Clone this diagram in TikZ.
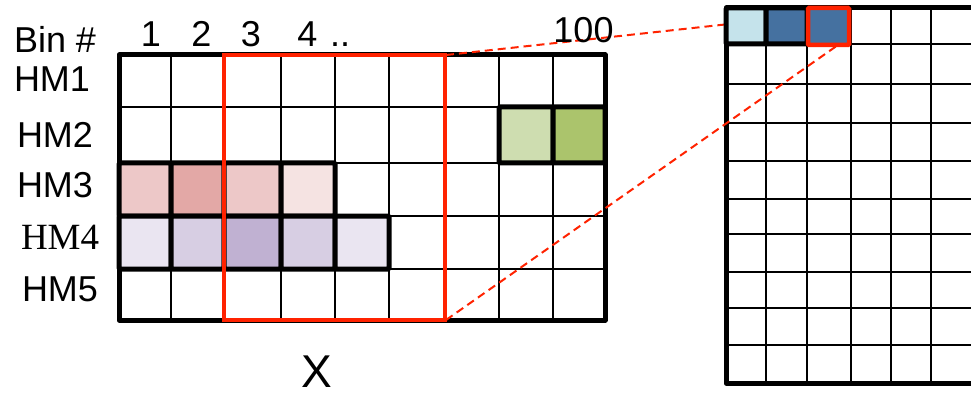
\documentclass[tikz,border=0pt]{standalone}
\usepackage{fontspec}
\setmainfont{Liberation Sans}
\newfontfamily\seriffont{Liberation Serif}
\definecolor{redbox}{RGB}{255,34,0}
\definecolor{pinkA}{HTML}{EDC8C8}
\definecolor{pinkB}{HTML}{E3A8A6}
\definecolor{pinkC}{HTML}{F5E3E2}
\definecolor{purA}{HTML}{EAE5F1}
\definecolor{purB}{HTML}{D7CEE3}
\definecolor{purC}{HTML}{C0B1D2}
\definecolor{greenA}{HTML}{CEDDB0}
\definecolor{greenB}{HTML}{ABC46C}
\definecolor{blueA}{HTML}{C5E3EB}
\definecolor{blueB}{HTML}{4571A0}
\tikzset{
  gridline/.style={line width=2.2pt,black},
  border/.style={line width=5pt,black,line join=round},
  cellbox/.style={line width=5pt,black,line join=round,rounded corners=1pt},
  redframe/.style={line width=4.5pt,redbox},
  zoomline/.style={line width=2pt,redbox,dash pattern=on 8pt off 5pt},
  lbl/.style={inner sep=0pt,outer sep=0pt,font=\fontsize{36}{40}\selectfont},
}
\begin{document}
\begin{tikzpicture}[x=1pt,y=-1pt]
\useasboundingbox (0,0) rectangle (971,398);
\clip (0,0) rectangle (971,398);
% ---------- left grid ----------
\foreach \x in {171,224,281,335,389,445,499,553}
  \draw[gridline] (\x,55) -- (\x,320);
\foreach \y in {107,163,216,269}
  \draw[gridline] (119,\y) -- (605,\y);
\draw[border] (119,55) rectangle (605,320);
% HM2 green
\draw[cellbox,fill=greenA] (499,107) rectangle (553,163);
\draw[cellbox,fill=greenB] (553,107) rectangle (605,163);
% HM3 pink
\draw[cellbox,fill=pinkA] (119,163) rectangle (171,216);
\draw[cellbox,fill=pinkB] (171,163) rectangle (224,216);
\draw[cellbox,fill=pinkA] (224,163) rectangle (281,216);
\draw[cellbox,fill=pinkC] (281,163) rectangle (335,216);
% HM4 purple
\draw[cellbox,fill=purA] (119,216) rectangle (171,269);
\draw[cellbox,fill=purB] (171,216) rectangle (224,269);
\draw[cellbox,fill=purC] (224,216) rectangle (281,269);
\draw[cellbox,fill=purB] (281,216) rectangle (335,269);
\draw[cellbox,fill=purA] (335,216) rectangle (389,269);
% red window
\draw[redframe] (224,55) rectangle (445,320);
\coordinate (winTR) at (446,55);
\coordinate (winBR) at (446,320);
% ---------- right grid ----------
\foreach \x in {766,807,851,891,931}
  \draw[gridline] (\x,8) -- (\x,383);
\foreach \y in {44,84,123,161,199,234,272,308,345}
  \draw[gridline] (726,\y) -- (975,\y);
\draw[border] (975,8) -- (726,8) -- (726,383) -- (975,383);
% zoom lines
\coordinate (cellA) at (766,20);
\coordinate (cellC) at (838,45);
\draw[zoomline] (winTR) -- (cellA);
\draw[zoomline] (winBR) -- (cellC);
% top cells
\draw[cellbox,fill=blueA] (726,8) rectangle (766,44);
\draw[cellbox,fill=blueB] (766,8) rectangle (807,44);
\draw[line width=4.5pt,redbox,rounded corners=1pt,fill=blueB] (808,8) rectangle (849,45);
% ---------- labels ----------
\node[lbl,anchor=base west] (bin) at (14,53) {Bin \#};
\node[lbl,anchor=base] (n1) at (151,47) {1};
\node[lbl,anchor=base] (n2) at (201.5,47) {2};
\node[lbl,anchor=base] (n3) at (251,47) {3};
\node[lbl,anchor=base] (n4) at (307.5,47) {4};
\node[lbl,anchor=base] (ndots) at (340,47) {..};
\node[lbl,anchor=base] (n100) at (583.5,43) {100};
\node[lbl,anchor=base west] (hm1) at (14,92) {HM1};
\node[lbl,anchor=base west] (hm2) at (17,148) {HM2};
\node[lbl,anchor=base west] (hm3) at (17,197) {HM3};
\node[lbl,anchor=base west,font=\seriffont\fontsize{37}{40}\selectfont] (hm4) at (21,249) {HM4};
\node[lbl,anchor=base west] (hm5) at (22,301) {HM5};
\node[inner sep=0pt,anchor=base,font=\fontsize{46}{50}\selectfont] (xlab) at (317,387) {X};
\end{tikzpicture}
\end{document}
